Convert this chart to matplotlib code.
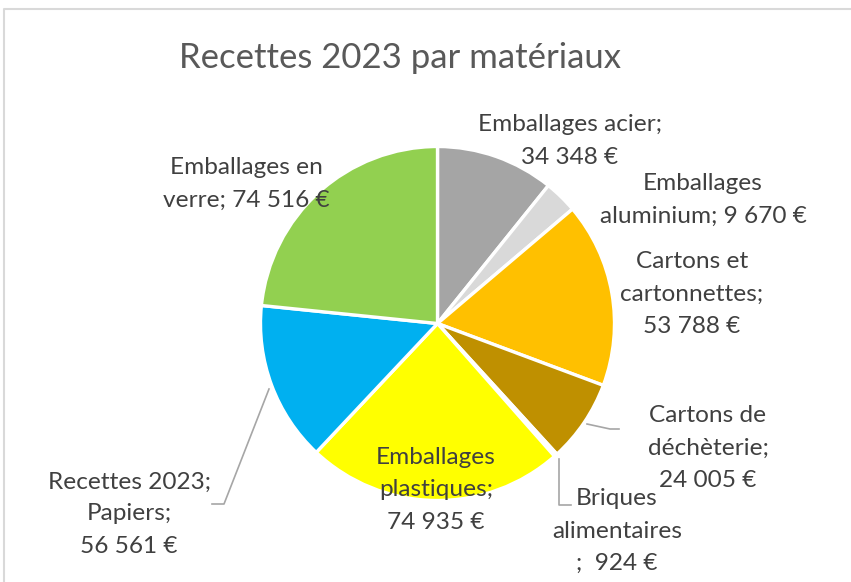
import matplotlib
matplotlib.use("Agg")
import matplotlib.pyplot as plt
from matplotlib.lines import Line2D

categories = ["Emballages acier", "Emballages aluminium", "Cartons et cartonnettes",
              "Cartons de déchèterie", "Briques alimentaires", "Emballages plastiques",
              "Papiers", "Emballages en verre"]
# slice sizes as drawn in the picture (the Papiers slice is drawn at ~46.5k)
values = [34348, 9670, 53788, 24005, 924, 74935, 46561, 74516]
label_texts = ["Emballages acier;\n34 348 €",
               "Emballages\naluminium; 9 670 €",
               "Cartons et\ncartonnettes;\n53 788 €",
               "Cartons de\ndéchèterie;\n24 005 €",
               "Briques\nalimentaires\n;  924 €",
               "Emballages\nplastiques;\n74 935 €",
               "Recettes 2023;\nPapiers;\n56 561 €",
               "Emballages en\nverre; 74 516 €"]
colors = ["#A5A5A5", "#D9D9D9", "#FFC000", "#BF9000", "#7F6000",
          "#FFFF00", "#00B0F0", "#92D050"]

W, H = 851, 582
fig = plt.figure(figsize=(W / 100, H / 100), dpi=100)
plt.rcParams['font.family'] = ['Lato', 'DejaVu Sans']

cx, cy, r = 437.5, 323.5, 177
ax = fig.add_axes([(cx - r) / W, (H - cy - r) / H, 2 * r / W, 2 * r / H])
ax.pie(values, colors=colors, startangle=90, counterclock=False,
       wedgeprops=dict(edgecolor="white", linewidth=2.4))
ax.set_xlim(-1, 1)
ax.set_ylim(-1, 1)
ax.axis("off")

def px(x, y):
    return x / W, 1 - y / H

# label layout (pixel centers)
label_pos = [(570, 141), (703, 200), (692, 294), (708, 448), (617, 531),
             (436, 490), (129, 514), (246, 184)]
for txt, (x, y) in zip(label_texts, label_pos):
    fx, fy = px(x, y)
    fig.text(fx, fy, txt, ha="center", va="center", fontsize=17.6,
             color="#404040", linespacing=1.65)

# leader lines
leaders = [
    [(587, 424), (610, 429), (619, 429)],
    [(559, 459), (559, 505), (571, 505)],
    [(269, 389), (224, 504), (212, 504)],
]
for pts in leaders:
    xs = [p[0] / W for p in pts]
    ys = [1 - p[1] / H for p in pts]
    fig.add_artist(Line2D(xs, ys, color="#A6A6A6", lw=1.2, transform=fig.transFigure))

# title
fig.text(*px(400, 58), "Recettes 2023 par matériaux", ha="center", va="center",
         fontsize=25, color="#595959")

# chart border (partially visible)
fig.add_artist(Line2D([4 / W, 4 / W, 1], [0, 1 - 9 / H, 1 - 9 / H],
                      color="#D9D9D9", lw=1.5, transform=fig.transFigure))

fig.savefig("out.png", dpi=100)
